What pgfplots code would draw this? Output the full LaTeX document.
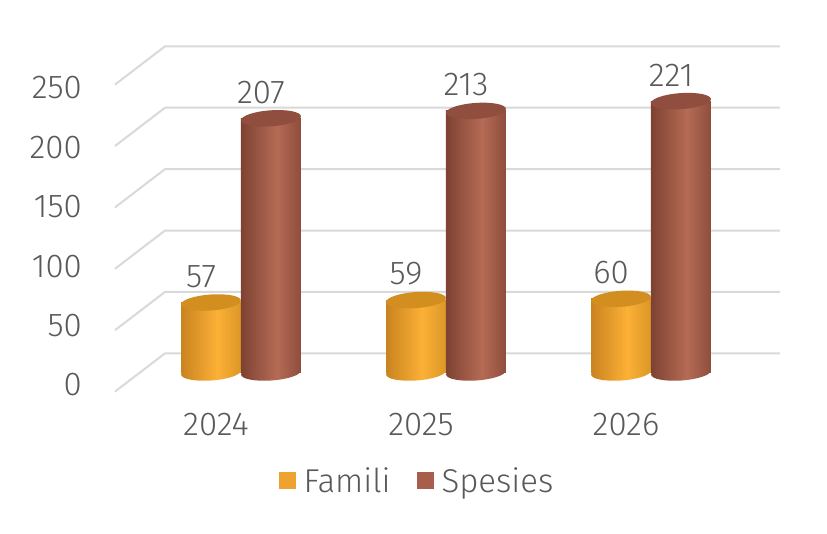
\documentclass[border=0pt]{standalone}
\usepackage{fontspec}
\setmainfont{Fira Sans}[UprightFont=* Light]
\usepackage{pgfplots}
\pgfplotsset{compat=1.18}

\definecolor{gridgray}{HTML}{D9D9D9}
\definecolor{textgray}{HTML}{595959}
\definecolor{fdark}{HTML}{C98320}
\definecolor{flight}{HTML}{FCB036}
\definecolor{fmid}{HTML}{DC9727}
\definecolor{ftop}{HTML}{D38E20}
\definecolor{sdark}{HTML}{7E4232}
\definecolor{slight}{HTML}{B56B55}
\definecolor{smid}{HTML}{8E4D3C}
\definecolor{stop}{HTML}{8F4E3E}
\definecolor{legF}{HTML}{EEA22F}
\definecolor{legS}{HTML}{A75E4A}

\newcommand\cf{\fontsize{33}{40}\selectfont}

% left-to-right shading of the cylinders (25bp = left edge, 75bp = right edge)
\pgfdeclarehorizontalshading{shF}{100bp}{color(0bp)=(fdark); color(25bp)=(fdark); color(55bp)=(flight); color(75bp)=(fmid); color(100bp)=(fmid)}
\pgfdeclarehorizontalshading{shS}{100bp}{color(0bp)=(sdark); color(25bp)=(sdark); color(55bp)=(slight); color(75bp)=(smid); color(100bp)=(smid)}

% cylinder caps
\pgfdeclareplotmark{botF}{\begin{pgfscope}\pgftransformrotate{4}\pgfpathellipse{\pgfpointorigin}{\pgfpoint{30pt}{0pt}}{\pgfpoint{0pt}{8pt}}\pgfshadepath{shF}{0}\pgfusepath{}\end{pgfscope}}
\pgfdeclareplotmark{botS}{\begin{pgfscope}\pgftransformrotate{4}\pgfpathellipse{\pgfpointorigin}{\pgfpoint{30pt}{0pt}}{\pgfpoint{0pt}{8pt}}\pgfshadepath{shS}{0}\pgfusepath{}\end{pgfscope}}
\pgfdeclareplotmark{topF}{\begin{pgfscope}\pgftransformrotate{4}\pgfpathellipse{\pgfpointorigin}{\pgfpoint{30pt}{0pt}}{\pgfpoint{0pt}{8pt}}\pgfsetfillcolor{ftop}\pgfusepathqfill\end{pgfscope}}
\pgfdeclareplotmark{topS}{\begin{pgfscope}\pgftransformrotate{4}\pgfpathellipse{\pgfpointorigin}{\pgfpoint{30pt}{0pt}}{\pgfpoint{0pt}{8pt}}\pgfsetfillcolor{stop}\pgfusepathqfill\end{pgfscope}}

\pgfplotsset{
  barF/.style={ybar, bar width=60pt, bar shift=0pt, draw=none, shading=shF, forget plot},
  barS/.style={ybar, bar width=60pt, bar shift=0pt, draw=none, shading=shS, forget plot},
  lbl/.style={only marks, forget plot, nodes near coords,
    every node near coord/.append style={anchor=center, xshift=-10pt, yshift=26pt, font=\cf, text=textgray}},
}

\begin{document}
\begin{tikzpicture}
\useasboundingbox (0pt,0pt) rectangle (827pt,534pt);

% y tick labels (own scale)
\begin{axis}[
  at={(82pt,149pt)}, anchor=south west,
  scale only axis, width=10pt, height=297pt,
  xmin=0, xmax=1, ymin=0, ymax=250,
  xtick=\empty, ytick={0,50,...,250},
  axis line style={draw=none}, major tick length=0pt,
  yticklabel style={anchor=east, inner sep=0pt, font=\cf, text=textgray},
  /pgf/number format/assume math mode=true,
]
\end{axis}

% bars, middle depth plane
\begin{axis}[
  at={(138.5pt,161.5pt)}, anchor=south west,
  scale only axis, width=615pt, height=307pt,
  xmin=-0.5, xmax=2.5, ymin=0, ymax=250,
  clip=false,
  axis line style={draw=none}, major tick length=0pt,
  ytick=\empty,
  xtick={0,1,2}, xticklabels={2024,2025,2026},
  xticklabel style={anchor=center, xshift=-25pt, yshift=-52.5pt, font=\cf, text=textgray},
  /pgf/number format/assume math mode=true,
  legend style={at={(0.4528,-0.3534)}, anchor=center, draw=none, fill=none,
    legend columns=-1, font=\cf, text=textgray,
    /tikz/every even column/.append style={column sep=24pt}},
  legend image code/.code={\fill[#1] (0pt,-8.5pt) rectangle (17pt,8.5pt); \path (23pt,0pt);},
]
% 3-d grid: back wall lines and floor diagonals
\pgfplotsinvokeforeach{0,50,100,150,200,250}{
  \draw[gridgray, line width=2pt]
    (axis cs:-0.615,#1-15.6) -- (axis cs:-0.3707,#1+15.6) -- (axis cs:2.629,#1+15.6);
}

% Famili
\addplot[only marks, mark=botF, forget plot] coordinates {(-0.1463,0) (0.8537,0) (1.8537,0)};
\addplot[barF] coordinates {(-0.1463,57)};
\addplot[barF] coordinates {(0.8537,59)};
\addplot[barF] coordinates {(1.8537,60)};
\addplot[lbl, mark=topF] coordinates {(-0.1463,57) (0.8537,59) (1.8537,60)};

% Spesies
\addplot[only marks, mark=botS, forget plot] coordinates {(0.1463,0) (1.1463,0) (2.1463,0)};
\addplot[barS] coordinates {(0.1463,207)};
\addplot[barS] coordinates {(1.1463,213)};
\addplot[barS] coordinates {(2.1463,221)};
\addplot[lbl, mark=topS] coordinates {(0.1463,207) (1.1463,213) (2.1463,221)};

\addlegendimage{fill=legF, draw=none}
\addlegendentry{Famili}
\addlegendimage{fill=legS, draw=none}
\addlegendentry{Spesies}
\end{axis}
\end{tikzpicture}
\end{document}
